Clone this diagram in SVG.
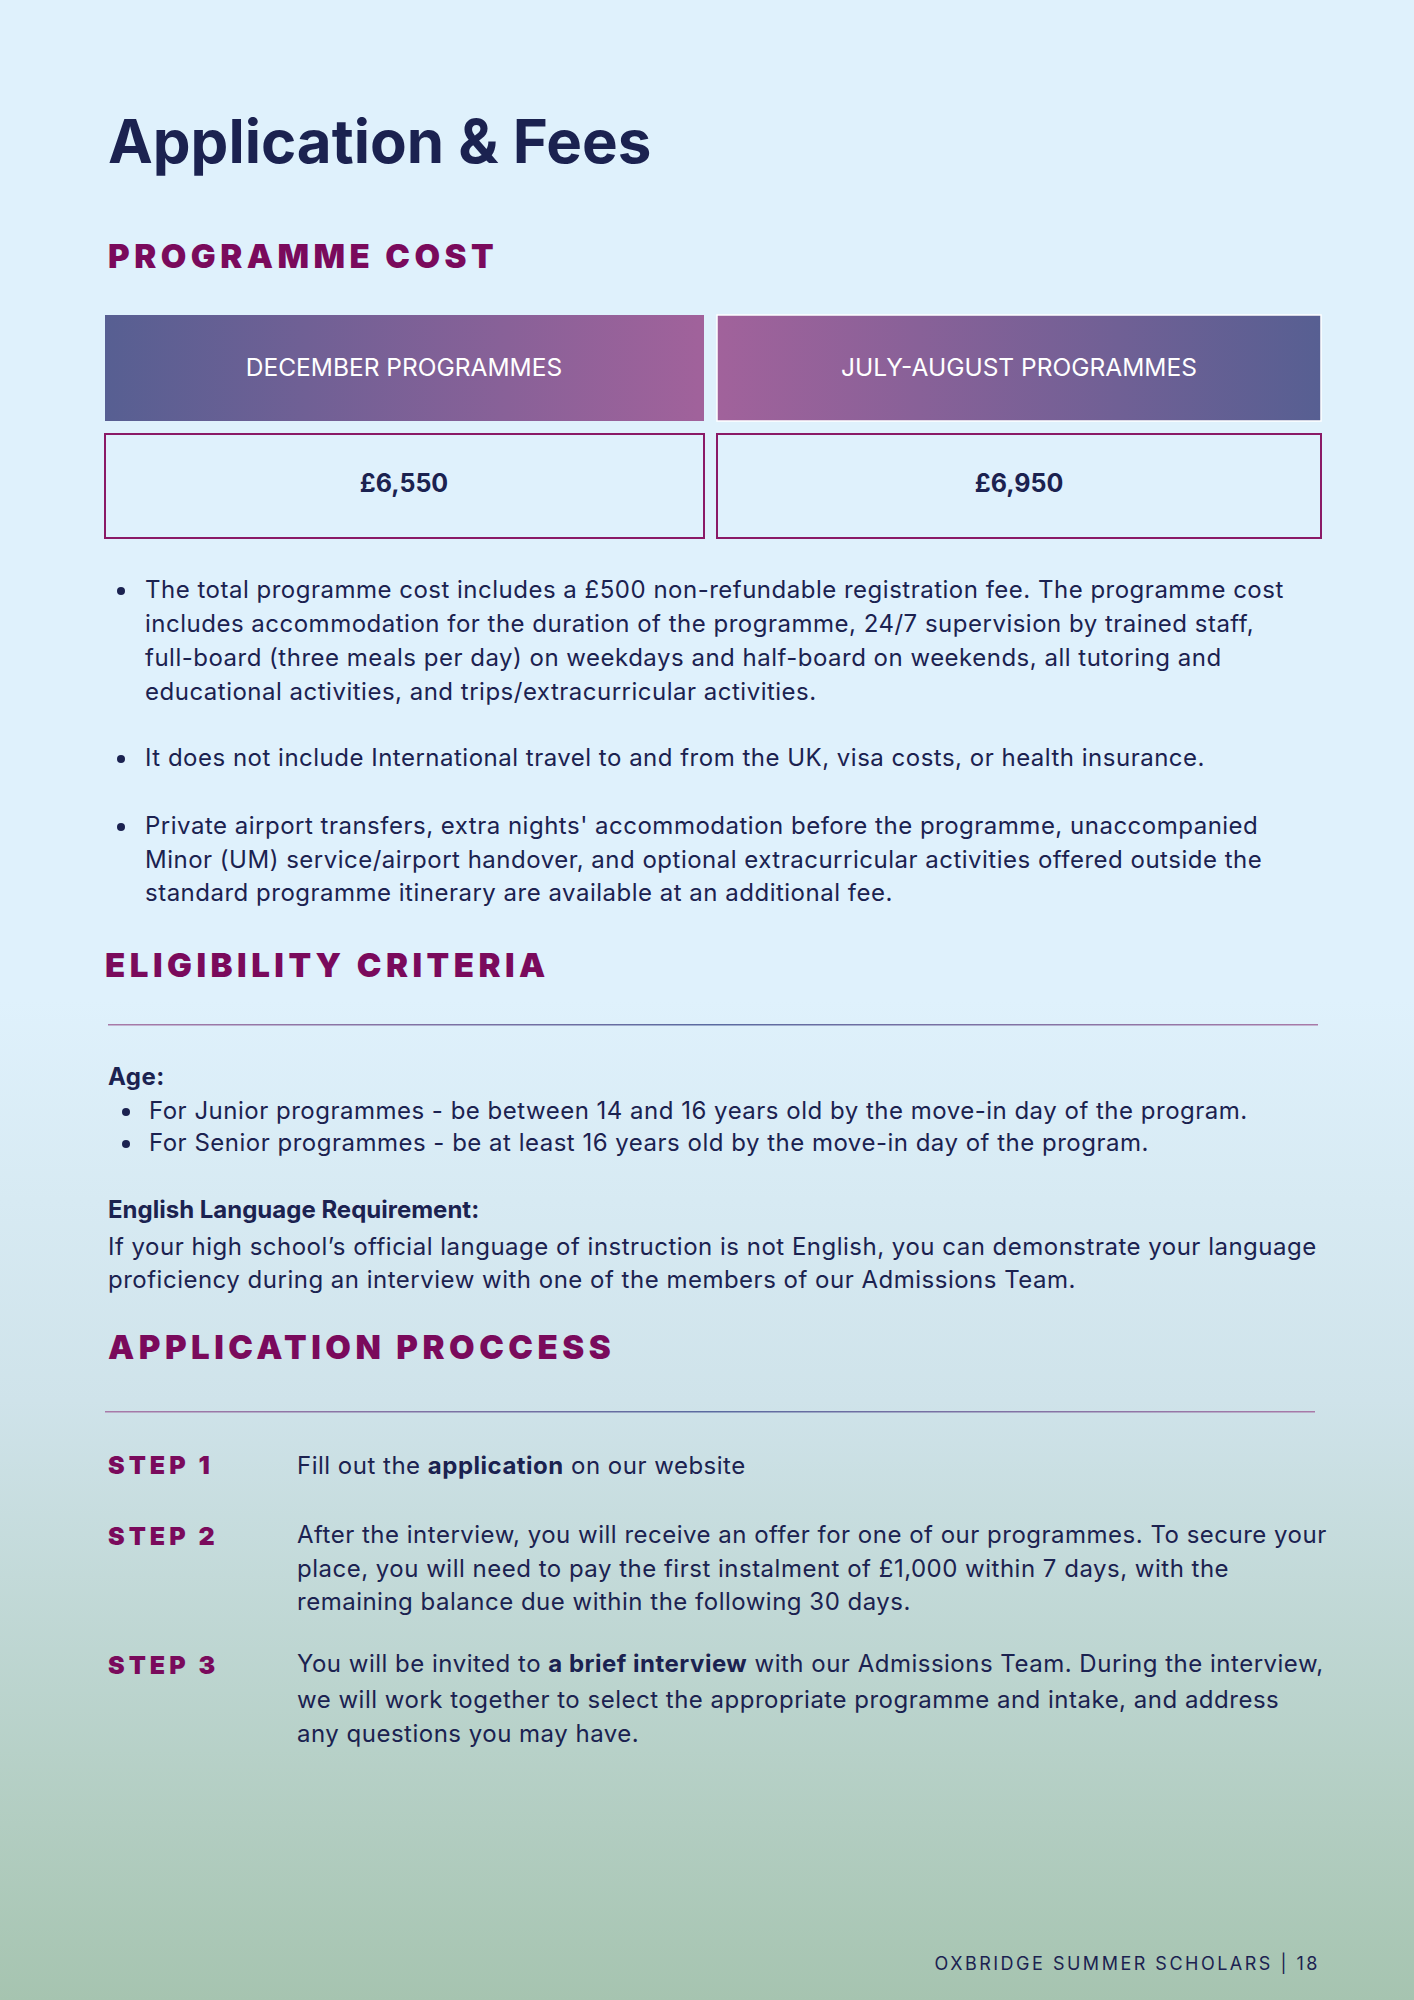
<svg xmlns="http://www.w3.org/2000/svg" width="1414" height="2000" viewBox="0 0 1414 2000">
<defs>
<linearGradient id="bg" x1="0" y1="0" x2="0" y2="1">
<stop offset="0" stop-color="#dff1fc"/><stop offset="0.5" stop-color="#dff1fc"/><stop offset="0.7" stop-color="#cfe3ea"/><stop offset="1" stop-color="#a6c4b0"/>
</linearGradient>
<linearGradient id="h1" x1="0" y1="0" x2="1" y2="0"><stop offset="0" stop-color="#575f92"/><stop offset="1" stop-color="#a1629b"/></linearGradient>
<linearGradient id="h2" x1="0" y1="0" x2="1" y2="0"><stop offset="0" stop-color="#a1629b"/><stop offset="1" stop-color="#575f92"/></linearGradient>
<linearGradient id="ln" x1="0" y1="0" x2="1" y2="0"><stop offset="0" stop-color="#a97aa8"/><stop offset="0.5" stop-color="#5a6aa0"/><stop offset="1" stop-color="#a97aa8"/></linearGradient>
</defs>
<style>
text{font-family:Inter,"Liberation Sans",sans-serif;fill:#1b2250}
.b{font-size:24px;letter-spacing:0.5px}
.hd{font-size:33px;font-weight:900;fill:#7a0a5c;letter-spacing:4.5px}
.st{font-size:25px;font-weight:900;fill:#7a0a5c;letter-spacing:4px}
.bo{font-weight:700}
</style>
<rect width="1414" height="2000" fill="url(#bg)"/>
<text x="108" y="163" font-size="60" font-weight="700">Application &amp; Fees</text>
<text class="hd" x="108" y="268">PROGRAMME COST</text>
<g id="dec-head"><rect x="105" y="315" width="599" height="106" fill="url(#h1)"/><text x="404" y="376" font-size="24.5" text-anchor="middle" style="fill:#fff">DECEMBER PROGRAMMES</text></g>
<g id="jul-head"><rect x="717" y="315" width="604" height="106" fill="url(#h2)" stroke="#fff" stroke-width="1.5"/><text x="1019" y="376" font-size="24.5" text-anchor="middle" style="fill:#fff">JULY-AUGUST PROGRAMMES</text></g>
<g id="dec-price"><rect x="105" y="434" width="599" height="104" fill="none" stroke="#8a1a66" stroke-width="2"/><text x="404" y="492" font-size="25" font-weight="700" text-anchor="middle">£6,550</text></g>
<g id="jul-price"><rect x="717" y="434" width="604" height="104" fill="none" stroke="#8a1a66" stroke-width="2"/><text x="1019" y="492" font-size="25" font-weight="700" text-anchor="middle">£6,950</text></g>
<g>
<circle cx="121" cy="591" r="4" fill="#1b2250"/><circle cx="121" cy="759" r="4" fill="#1b2250"/><circle cx="121" cy="827" r="4" fill="#1b2250"/>
<text class="b" x="145" y="598">The total programme cost includes a £500 non-refundable registration fee. The programme cost</text>
<text class="b" x="145" y="632">includes accommodation for the duration of the programme, 24/7 supervision by trained staff,</text>
<text class="b" x="145" y="666">full-board (three meals per day) on weekdays and half-board on weekends, all tutoring and</text>
<text class="b" x="145" y="700">educational activities, and trips/extracurricular activities.</text>
<text class="b" x="145" y="766">It does not include International travel to and from the UK, visa costs, or health insurance.</text>
<text class="b" x="145" y="834">Private airport transfers, extra nights' accommodation before the programme, unaccompanied</text>
<text class="b" x="145" y="868">Minor (UM) service/airport handover, and optional extracurricular activities offered outside the</text>
<text class="b" x="145" y="901">standard programme itinerary are available at an additional fee.</text>
</g>
<text class="hd" x="105" y="977">ELIGIBILITY CRITERIA</text>
<rect x="108" y="1024" width="1210" height="1.5" fill="url(#ln)"/>
<text class="b bo" x="108" y="1085">Age:</text>
<circle cx="126" cy="1112" r="4" fill="#1b2250"/><circle cx="126" cy="1144" r="4" fill="#1b2250"/>
<text class="b" x="149" y="1119">For Junior programmes - be between 14 and 16 years old by the move-in day of the program.</text>
<text class="b" x="149" y="1151">For Senior programmes - be at least 16 years old by the move-in day of the program.</text>
<text class="b bo" x="108" y="1218" style="letter-spacing:0">English Language Requirement:</text>
<text class="b" x="108" y="1255">If your high school’s official language of instruction is not English, you can demonstrate your language</text>
<text class="b" x="108" y="1288">proficiency during an interview with one of the members of our Admissions Team.</text>
<text class="hd" x="108" y="1359">APPLICATION PROCCESS</text>
<rect x="105" y="1411" width="1210" height="1.5" fill="url(#ln)"/>
<g id="step1"><text class="st" x="108" y="1474">STEP 1</text><text class="b" x="297" y="1474">Fill out the <tspan class="bo">application</tspan> on our website</text></g>
<g id="step2"><text class="st" x="108" y="1545">STEP 2</text>
<text class="b" x="297" y="1543">After the interview, you will receive an offer for one of our programmes. To secure your</text>
<text class="b" x="297" y="1577">place, you will need to pay the first instalment of £1,000 within 7 days, with the</text>
<text class="b" x="297" y="1610">remaining balance due within the following 30 days.</text></g>
<g id="step3"><text class="st" x="108" y="1674">STEP 3</text>
<text class="b" x="297" y="1672">You will be invited to <tspan class="bo">a brief interview</tspan> with our Admissions Team. During the interview,</text>
<text class="b" x="297" y="1708">we will work together to select the appropriate programme and intake, and address</text>
<text class="b" x="297" y="1742">any questions you may have.</text></g>
<text x="1320" y="1970" font-size="18" letter-spacing="2.5" text-anchor="end">OXBRIDGE SUMMER SCHOLARS | 18</text>
</svg>
